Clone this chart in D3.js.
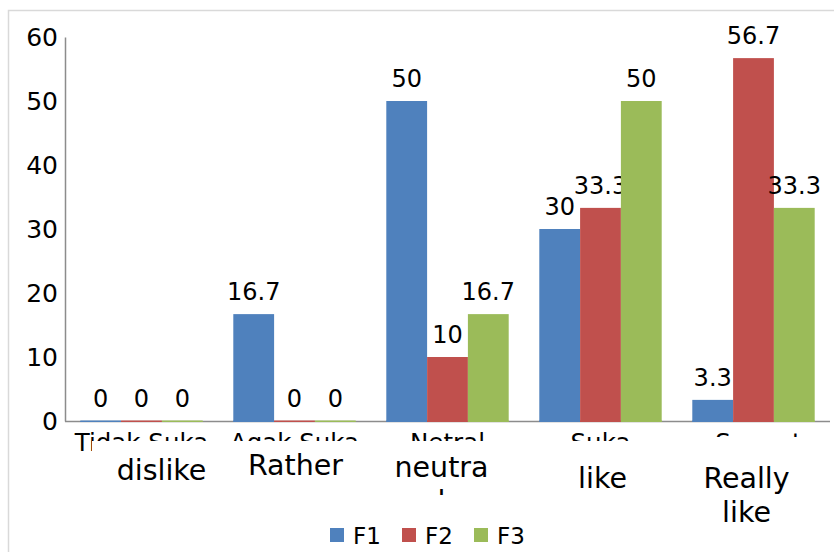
<!DOCTYPE html>
<head>
    <meta charset="utf-8">
    <script src="https://d3js.org/d3.v7.min.js"></script>
    <style>
        body {
            margin: 0;
            background: #fff;
            font-family: "DejaVu Sans", sans-serif;
        }
        text {
            fill: #000;
        }
    </style>
</head>
<body>
    <script>
        // categories (original Indonesian labels) and the English captions laid over them
        var categories = ["Tidak Suka", "Agak Suka", "Netral", "Suka", "Sangat Suka"];
        var englishLabels = [["dislike"], ["Rather"], ["neutra", "l"], ["like"], ["Really", "like"]];
        var seriesNames = ["F1", "F2", "F3"];
        var f1 = [0, 16.7, 50, 30, 3.3];
        var f2 = [0, 0, 10, 33.3, 56.7];
        var f3 = [0, 0, 16.7, 50, 33.3];
        var yTicks = [0, 10, 20, 30, 40, 50, 60];

        var colors = ["#4f81bd", "#c0504d", "#9bbb59"];
        // hand placed caption boxes: [dx from category centre, first baseline, clip bottom]
        var captionPlace = [[20, 480, 552], [1, 475, 552], [-6, 477, 495], [2, 488, 552], [-7, 488, 552]];

        var width = 834, height = 552;

        var svg = d3.select("body").append("svg")
            .attr("width", width)
            .attr("height", height);

        // outer chart frame
        svg.append("rect")
            .attr("x", 8.5).attr("y", 10.5)
            .attr("width", width + 20).attr("height", height + 20)
            .attr("fill", "#fff")
            .attr("stroke", "#d9d9d9")
            .attr("stroke-width", 1.5);

        var y = d3.scaleLinear().domain([0, 60]).range([421, 37]);
        var x = d3.scaleBand().domain(categories).range([65, 830])
            .paddingInner(0.2).paddingOuter(0.1);
        var xs = d3.scaleBand().domain(seriesNames).range([0, x.bandwidth()]);
        var mid = function(c) { return x(c) + x.bandwidth() / 2; };

        var rows = categories.map(function(c, i) {
            return { cat: c, values: [f1[i], f2[i], f3[i]] };
        });

        // y axis
        var yAxis = d3.axisLeft(y).tickValues(yTicks).tickSize(0).tickPadding(7).tickSizeOuter(0);
        var gy = svg.append("g").attr("transform", "translate(65,0)").call(yAxis);
        gy.select(".domain").attr("stroke", "#8c8c8c").attr("stroke-width", 1.5);
        gy.selectAll("text").style("font-size", "25px").style("font-family", "DejaVu Sans").attr("fill", "#000");

        // x axis line
        svg.append("line")
            .attr("x1", 65).attr("x2", 830)
            .attr("y1", y(0) + 0.5).attr("y2", y(0) + 0.5)
            .attr("stroke", "#8c8c8c").attr("stroke-width", 1.5);

        var groups = svg.selectAll("g.cat")
            .data(rows)
            .enter().append("g")
            .attr("class", "cat")
            .attr("transform", function(d) { return "translate(" + x(d.cat) + ",0)"; });

        var bars = groups.selectAll("g.bar")
            .data(function(d) {
                return d.values.map(function(v, j) { return { name: seriesNames[j], value: v, j: j }; });
            })
            .enter().append("g").attr("class", "bar");

        bars.append("rect")
            .attr("x", function(d) { return xs(d.name); })
            .attr("y", function(d) { return y(d.value); })
            .attr("width", xs.bandwidth())
            .attr("height", function(d) { return y(0) - y(d.value) + 1; })
            .attr("fill", function(d) { return colors[d.j]; });

        // zero-height bars still show as a thin coloured line on the axis
        bars.append("rect")
            .attr("x", function(d) { return xs(d.name); })
            .attr("y", y(0) - 0.5)
            .attr("width", xs.bandwidth())
            .attr("height", 1.5)
            .attr("fill", function(d) { return colors[d.j]; });

        bars.append("text")
            .attr("x", function(d) { return xs(d.name) + xs.bandwidth() / 2; })
            .attr("y", function(d) { return y(d.value) - 14; })
            .attr("text-anchor", "middle")
            .style("font-size", "24px")
            .text(function(d) { return d.value; });

        // original category labels, mostly hidden under the caption boxes
        categories.forEach(function(c, i) {
            var words = c.length > 10 ? c.split(" ") : [c];
            var t = svg.append("text")
                .attr("text-anchor", "middle")
                .style("font-size", "24.5px");
            words.forEach(function(w, k) {
                t.append("tspan")
                    .attr("x", mid(c) + (words.length > 1 ? 5 : 0))
                    .attr("y", 450.5 + k * 30)
                    .text(w);
            });
        });

        svg.append("rect")
            .attr("x", 92).attr("y", 441)
            .attr("width", 740).attr("height", 80)
            .attr("fill", "#fff");
        svg.append("rect")
            .attr("x", 690).attr("y", 437)
            .attr("width", 142).attr("height", 84)
            .attr("fill", "#fff");

        var defs = svg.append("defs");
        englishLabels.forEach(function(lines, i) {
            var p = captionPlace[i];
            defs.append("clipPath").attr("id", "cap" + i)
                .append("rect").attr("x", 0).attr("y", 0).attr("width", width).attr("height", p[2]);
            var t = svg.append("text")
                .attr("clip-path", "url(#cap" + i + ")")
                .attr("text-anchor", "middle")
                .style("font-size", "28.5px");
            lines.forEach(function(line, k) {
                t.append("tspan")
                    .attr("x", mid(categories[i]) + p[0])
                    .attr("y", p[1] + k * 34)
                    .text(line);
            });
        });

        // legend
        var legend = svg.selectAll("g.legend")
            .data(seriesNames)
            .enter().append("g")
            .attr("class", "legend")
            .attr("transform", function(d, i) { return "translate(" + (330 + i * 72) + ",528)"; });

        legend.append("rect")
            .attr("width", 14).attr("height", 14)
            .attr("fill", function(d, i) { return colors[i]; });

        legend.append("text")
            .attr("x", 23).attr("y", 15.5)
            .style("font-size", "23px")
            .text(function(d) { return d; });
    </script>
</body>
